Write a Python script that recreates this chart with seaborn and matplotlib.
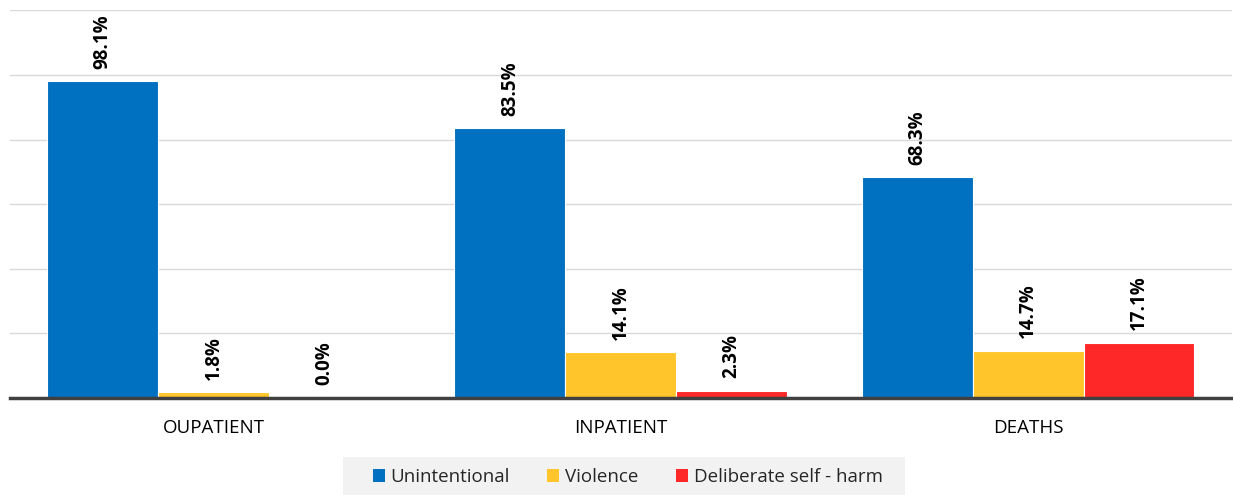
import matplotlib
matplotlib.use("Agg")
import matplotlib.pyplot as plt
import seaborn as sns
import pandas as pd
from matplotlib.patches import Patch, Rectangle

categories = ["OUPATIENT", "INPATIENT", "DEATHS"]
series = ["Unintentional", "Violence", "Deliberate self - harm"]
unintentional = [98.1, 83.5, 68.3]
violence = [1.8, 14.1, 14.7]
self_harm = [0.0, 2.3, 17.1]
colors = ["#0070C0", "#FFC52A", "#FF2828"]

rows = []
for name, vals in zip(series, [unintentional, violence, self_harm]):
    for cat, v in zip(categories, vals):
        rows.append({"category": cat, "type": name, "value": v})
df = pd.DataFrame(rows)

sns.set_theme(style="white")
plt.rcParams["font.family"] = ["Open Sans", "DejaVu Sans"]

fig = plt.figure(figsize=(12.33, 4.95), dpi=100)
ax = fig.add_axes([0.008, 0.196, 0.991, 0.783])

sns.barplot(data=df, x="category", y="value", hue="type", order=categories,
            hue_order=series, palette=colors, width=0.817, saturation=1,
            edgecolor="white", linewidth=0.8, legend=False, ax=ax)

ax.set_ylim(0, 120)
ax.set_xlim(-0.5, 2.5)
ax.set_yticks(range(0, 121, 20))
ax.yaxis.grid(True, color="#d9d9d9", linewidth=1)
ax.set_axisbelow(True)
ax.set_yticklabels([])
ax.tick_params(axis="y", length=0)
ax.tick_params(axis="x", length=0, pad=15, labelsize=13.5, colors="#000000")
ax.set_xlabel("")
ax.set_ylabel("")
for side in ["left", "right", "top"]:
    ax.spines[side].set_visible(False)
ax.spines["bottom"].set_color("#404040")
ax.spines["bottom"].set_linewidth(2.5)

# value labels, rotated, above each bar
for container in ax.containers:
    for bar in container:
        h = bar.get_height()
        ax.annotate(f"{h:.1f}%", (bar.get_x() + bar.get_width() / 2, h),
                    xytext=(0, 9), textcoords="offset points",
                    rotation=90, ha="center", va="bottom",
                    fontsize=13.5, fontweight="bold", color="#000000")

# legend background panel
fig.patches.append(Rectangle((0.278, 0.0), 0.456, 0.077,
                             transform=fig.transFigure, facecolor="#F2F2F2",
                             edgecolor="none", zorder=0))

handles = [Patch(facecolor=c, edgecolor="none") for c in colors]
leg = fig.legend(handles, series, loc="center", bbox_to_anchor=(0.509, 0.036),
                 ncol=3, frameon=False, fontsize=13.5, handlelength=0.65,
                 handleheight=0.65, handletextpad=0.3, columnspacing=2.0)

fig.savefig("out.png", dpi=100, facecolor="white")
